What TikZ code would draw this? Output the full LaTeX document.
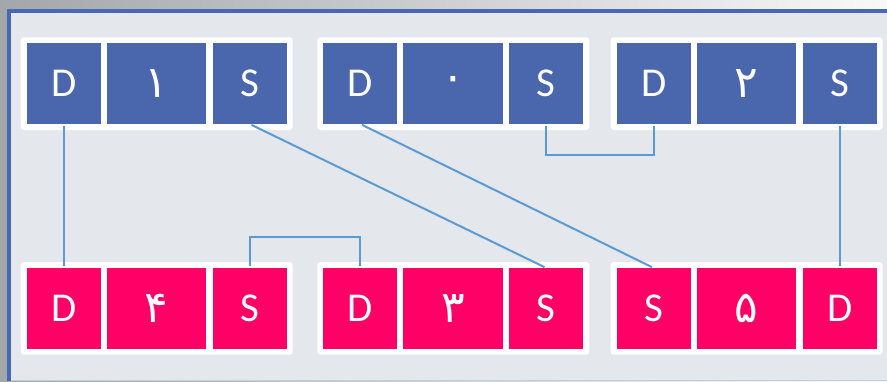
\documentclass[tikz,border=0pt]{standalone}
\usepackage{fontspec}
\setmainfont{Carlito}
\newfontfamily\arabicfont[Script=Arabic]{DejaVu Sans}
\TeXXeTstate=1
\definecolor{panelbg}{HTML}{E4E7EC}
\definecolor{edgeblue}{HTML}{4A67B3}
\definecolor{cellblue}{HTML}{4A66AC}
\definecolor{cellpink}{HTML}{FF0066}
\definecolor{linkblue}{HTML}{5B9BD5}
\definecolor{outergray}{HTML}{A2A7AA}
\tikzset{
  frame/.style={fill=white, rounded corners=3pt, inner sep=0pt, outer sep=0pt,
    minimum width=272pt, minimum height=92.7pt, anchor=north west},
  cell/.style={inner sep=0pt, outer sep=0pt, text=white, anchor=north west,
    minimum height=80.7pt},
  sidecell/.style={cell, minimum width=74pt, font=\fontsize{41}{41}\selectfont},
  midcell/.style={cell, minimum width=99.5pt, font=\arabicfont\fontsize{44}{44}\selectfont},
  link/.style={draw=linkblue, line width=2pt, shorten <=2pt, shorten >=2pt}
}
% one white frame holding three coloured cells
% #1 name prefix, #2 x, #3 y, #4 fill, #5 left, #6 middle, #7 right
\newcommand\segrow[7]{%
  \node[frame] (#1f) at (#2,#3) {};
  \node[sidecell, fill=#4] (#1L) at (#2+6,#3+6) {#5};
  \node[midcell, fill=#4] (#1M) at (#2+86,#3+6) {\raisebox{-4pt}{\beginR #6\endR}};
  \node[sidecell, fill=#4] (#1R) at (#2+192,#3+6) {#7};
}
\begin{document}
\begin{tikzpicture}[x=1pt,y=-1pt]
  \useasboundingbox (0,0) rectangle (887,381);
  % surrounding slide area
  \shade[left color=outergray, right color=white!95!gray] (0,0) rectangle (887,381);
  \fill[edgeblue] (7,9) rectangle (887,381);
  \fill[panelbg] (11,13) rectangle (887,381);
  \draw[color=linkblue!30!panelbg, line width=1pt] (11,380) -- (887,380);

  % upper row
  \segrow{ta}{20.7}{37.3}{cellblue}{D}{۱}{S}
  \segrow{tb}{317.3}{37.3}{cellblue}{D}{۰}{S}
  \segrow{tc}{610.7}{37.3}{cellblue}{D}{۲}{S}
  % lower row
  \segrow{ba}{20.7}{262}{cellpink}{D}{۴}{S}
  \segrow{bb}{317.3}{262}{cellpink}{D}{۳}{S}
  \segrow{bc}{610.7}{262}{cellpink}{S}{۵}{D}

  % connectors
  \draw[link] (taL.south) -- (baL.north);
  \draw[link] (taR.south) -- (bbR.north);
  \draw[link] (tbL.south) -- (bcL.north);
  \draw[link] (tbR.south) -- ++(0,31) -| (tcL.south);
  \draw[link] (tcR.south) -- (bcR.north);
  \draw[link] (baR.north) -- ++(0,-31) -| (bbL.north);
\end{tikzpicture}
\end{document}
